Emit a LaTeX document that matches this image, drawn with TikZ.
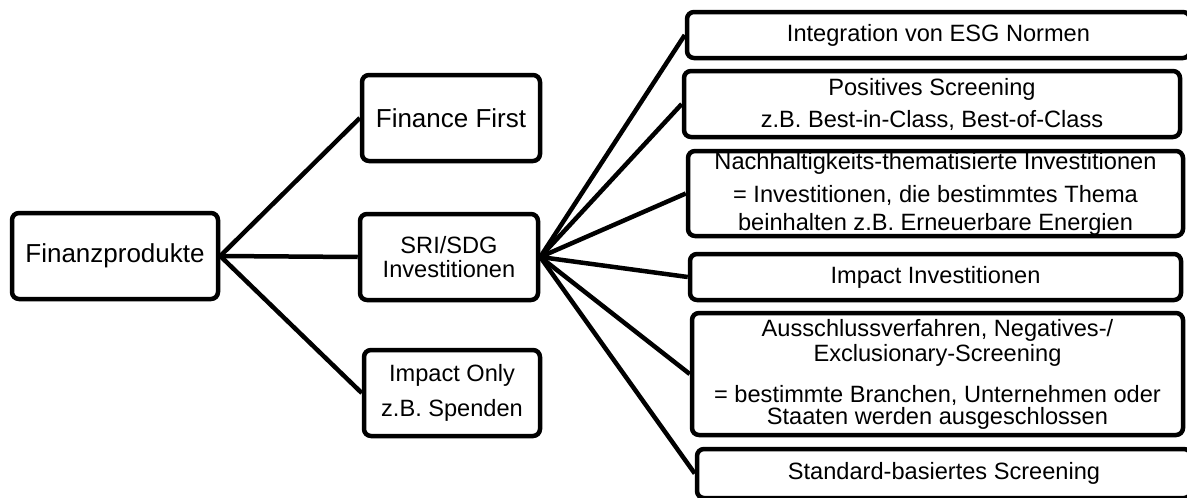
\documentclass[tikz,border=0pt]{standalone}
\usepackage{fontspec}
\setmainfont{Liberation Sans}
\begin{document}
\begin{tikzpicture}[x=1pt,y=-1pt,
  box/.style={draw=black, line width=4.5pt, rounded corners=7pt, fill=white,
    inner sep=0pt, align=center, text=black},
  big/.style={font=\fontsize{26}{30}\selectfont},
  small/.style={font=\fontsize{23.6}{26}\selectfont},
  link/.style={draw=black, line width=4.5pt, line join=round}]
\useasboundingbox (0,0) rectangle (1187,498);
\clip (0,0) rectangle (1187,498);
\node[box,big,minimum width=206pt,minimum height=86pt] (fp) at (115,256) {Finanzprodukte};
\node[box,big,minimum width=178pt,minimum height=86pt] (ff) at (451,118) {Finance First};
\node[box,small,minimum width=178pt,minimum height=86pt] (sri) at (449,257) {SRI/SDG\\[-2pt]Investitionen};
\node[box,small,minimum width=176pt,minimum height=86pt] (io) at (452,393) {Impact Only\\[9pt]z.B. Spenden};
\node[box,small,minimum width=503pt,minimum height=46pt] (esg) at (938.5,35) {Integration von ESG Normen};
\node[box,small,minimum width=496pt,minimum height=66pt] (pos) at (932,104) {Positives Screening\\[6pt]z.B. Best-in-Class, Best-of-Class};
\node[box,small,minimum width=495pt,minimum height=85pt] (nach) at (935.5,193.5) {Nachhaltigkeits-thematisierte Investitionen\\[7pt]= Investitionen, die bestimmtes Thema\\[2pt]beinhalten z.B. Erneuerbare Energien};
\node[box,small,minimum width=491pt,minimum height=46pt] (imp) at (935.5,277) {Impact Investitionen};
\node[box,small,minimum width=491pt,minimum height=122pt] (aus) at (937.5,374) {Ausschlussverfahren, Negatives-/\\[-1pt]Exclusionary-Screening\\[15pt]= bestimmte Branchen, Unternehmen oder\\[-4pt]Staaten werden ausgeschlossen};
\node[box,small,minimum width=494pt,minimum height=49pt] (std) at (944,473.5) {Standard-basiertes Screening};
\draw[link] (fp.east) -- (ff.west);
\draw[link] (fp.east) -- (sri.west);
\draw[link] (fp.east) -- (io.west);
\draw[link] (sri.east) -- (esg.west);
\draw[link] (sri.east) -- (pos.west);
\draw[link] (sri.east) -- (nach.west);
\draw[link] (sri.east) -- (imp.west);
\draw[link] (sri.east) -- (aus.west);
\draw[link] (sri.east) -- (std.west);
\end{tikzpicture}
\end{document}
